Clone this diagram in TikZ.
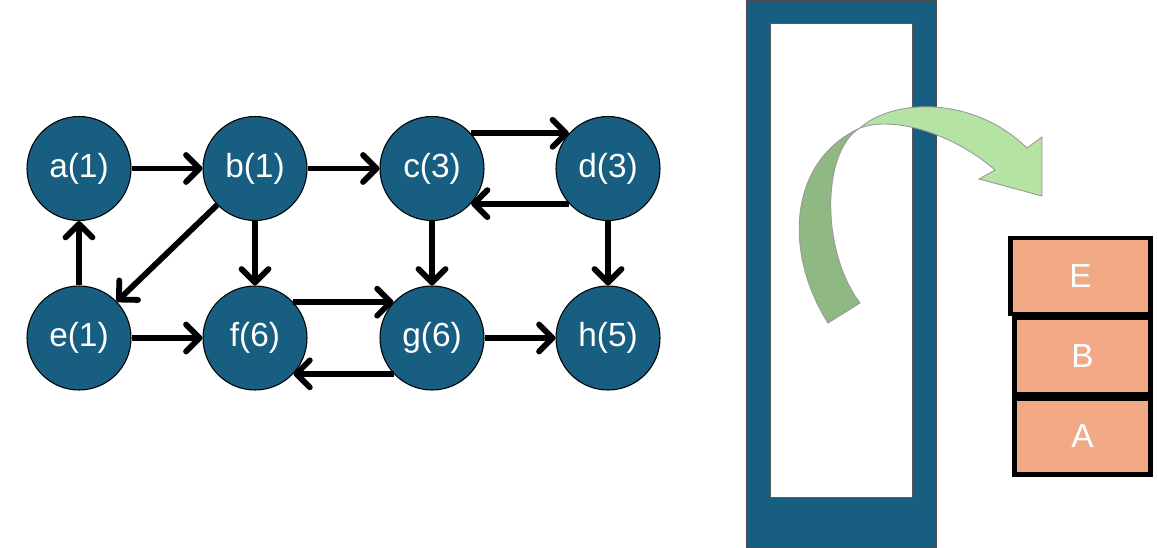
\documentclass[tikz,border=0pt]{standalone}
\usepackage{fontspec}
\setmainfont{Liberation Sans}
\usetikzlibrary{arrows.meta}

\definecolor{nodeblue}{RGB}{24,94,128}
\definecolor{boxorange}{RGB}{241,170,133}
\definecolor{lightgreen}{RGB}{180,227,164}
\definecolor{darkgreen}{RGB}{143,184,130}

\begin{document}
\begin{tikzpicture}[
    vertex/.style={circle, draw=black, line width=0.6pt, fill=nodeblue, inner sep=0pt,
                   minimum size=2.08cm, text=white, font=\fontsize{19}{21}\selectfont},
    edge/.style={line width=3.3pt, -{Straight Barb[round, length=2.7mm, width=5.4mm]}},
    stackbox/.style={rectangle, draw=black, line width=2.8pt, fill=boxorange, inner sep=0pt,
                     minimum width=2.8cm, minimum height=1.52cm, text=white,
                     font=\fontsize{19}{21}\selectfont},
    flipband/.style={draw=gray!80, line width=0.5pt},
]
\useasboundingbox (0,0) rectangle (23.16,10.94);

% Left panel: directed graph, values in brackets
\foreach \n/\x/\y/\v in {a/1.58/7.57/1, b/5.10/7.57/1, c/8.64/7.57/3, d/12.16/7.57/3,
                         e/1.58/4.18/1, f/5.10/4.18/6, g/8.64/4.18/6, h/12.16/4.18/5}{
  \node[vertex] (\n) at (\x,\y) {\n(\v)};
}

% Straight edges
\foreach \u/\v in {a/b, b/c, e/a, e/f, g/h, b/f, b/e, c/g, d/h}{
  \draw[edge] (\u) -- (\v);
}

% Edges in both directions between c,d and f,g
\foreach \u/\v in {c.42/d.138, d.222/c.318, f.43/g.137, g.223/f.317}{
  \draw[edge] (\u) -- (\v);
}

% Right panel: stack frame
\fill[nodeblue, draw=gray!60!black, line width=0.4pt] (14.92,0) rectangle (18.72,10.94);
\filldraw[fill=white, draw=gray!70!black, line width=0.4pt] (15.40,1.00) rectangle (18.24,10.48);

% Curved arrow, back part
\filldraw[flipband, fill=darkgreen] (16.56,4.48)
    .. controls (15.64,5.94) and (15.80,7.74) .. (17.20,8.38)
    .. controls (16.44,7.94) and (16.40,5.94) .. (17.20,4.88) -- cycle;

% Curved arrow, front part with head
\filldraw[flipband, fill=lightgreen] (17.20,8.38)
    .. controls (17.90,9.00) and (19.50,9.00) .. (20.54,7.98)
    -- (20.84,8.20) -- (20.84,7.02) -- (19.58,7.36) -- (19.90,7.54)
    .. controls (19.10,8.24) and (17.90,8.64) .. (17.20,8.38) -- cycle;

% Stack of boxes
\node[stackbox] (E) at (21.61,5.42) {E};
\node[stackbox, minimum width=2.72cm] (B) at (21.65,3.82) {B};
\node[stackbox, minimum width=2.72cm] (A) at (21.65,2.21) {A};

\end{tikzpicture}
\end{document}
